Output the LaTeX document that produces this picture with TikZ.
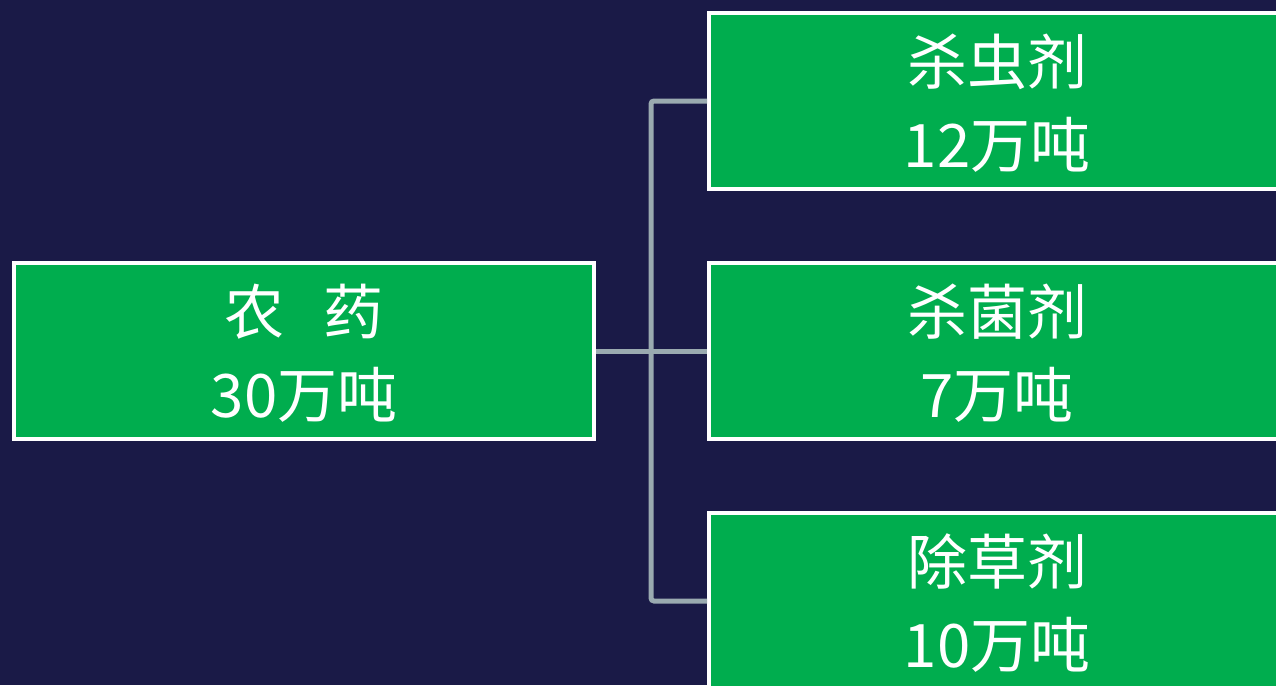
\documentclass[tikz,border=0pt]{standalone}
\usepackage{fontspec}
\setmainfont{Noto Sans CJK SC}
\usetikzlibrary{positioning}
\definecolor{navy}{HTML}{1A1A47}
\definecolor{leaf}{HTML}{00AD4E}
\definecolor{stem}{HTML}{9AAAB0}

\begin{document}
\begin{tikzpicture}[%
    x=1pt, y=-1pt,              % one unit per pixel, y going down
    ]
% -------------------------------------------------
% Box and connector styles
\tikzset{
  base/.style={draw=white, line width=4pt, fill=leaf, text=white,
    align=center, minimum height=176pt, text depth=-6pt,
    font={\fontsize{60}{83}\selectfont}},
  root/.style={base, minimum width=580pt},
  leafbox/.style={base, minimum width=576pt},
  % Connector line style
  link/.style={draw=stem, line width=5pt, rounded corners=3pt}
}
% -------------------------------------------------
\useasboundingbox (0,0) rectangle (1276,685);
\fill [navy] (0,0) rectangle (1276,685);
\clip (0,0) rectangle (1276,685);

% Place the nodes
\node [root] (pest) at (304,351) {农\hspace{0.66em}药\\30万吨};
\node [leafbox] (insect) at (997,101) {杀虫剂\\12万吨};
\node [leafbox] (fungus) at (997,351) {杀菌剂\\7万吨};
\node [leafbox] (weed) at (997,601) {除草剂\\10万吨};

% Connect them
\coordinate (jn) at (651,351);
\draw [link] (pest.east) -- (jn);
\draw [link] (jn) |- (insect.west);
\draw [link] (jn) |- (weed.west);
\draw [link] (jn) -- (fungus.west);
% -------------------------------------------------
\end{tikzpicture}
\end{document}
